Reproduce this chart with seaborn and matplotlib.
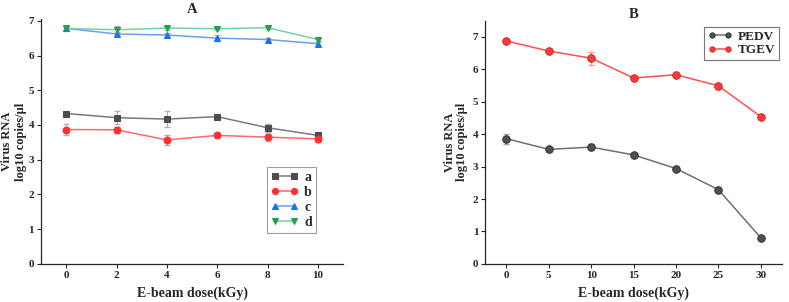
import matplotlib.pyplot as plt
import pandas as pd
import seaborn as sns

sns.set_theme(style='ticks')
plt.rcParams['font.family'] = ['Liberation Serif', 'DejaVu Serif']
plt.rcParams['font.weight'] = 'bold'

# panel A data
dose_a = [0, 2, 4, 6, 8, 10]
a_vals = [4.33, 4.21, 4.17, 4.24, 3.92, 3.70]
a_err = [0.05, 0.18, 0.22, 0.08, 0.12, 0.04]
b_vals = [3.87, 3.86, 3.57, 3.70, 3.65, 3.60]
b_err = [0.15, 0.08, 0.15, 0.05, 0.10, 0.08]
c_vals = [6.78, 6.62, 6.59, 6.50, 6.46, 6.34]
c_err = [0.05, 0.06, 0.05, 0.08, 0.05, 0.04]
d_vals = [6.78, 6.74, 6.79, 6.77, 6.80, 6.46]
d_err = [0.08, 0.12, 0.05, 0.05, 0.04, 0.05]

# panel B data
dose_b = [0, 5, 10, 15, 20, 25, 30]
pedv_vals = [3.86, 3.53, 3.60, 3.36, 2.94, 2.29, 0.81]
pedv_err = [0.15, 0.08, 0.10, 0.05, 0.05, 0.08, 0.05]
tgev_vals = [6.87, 6.56, 6.34, 5.73, 5.83, 5.49, 4.54]
tgev_err = [0.05, 0.05, 0.20, 0.05, 0.05, 0.10, 0.05]

fig = plt.figure(figsize=(7.89, 3.02), dpi=100)
axA = fig.add_axes([0.052, 0.126, 0.383, 0.811])
axB = fig.add_axes([0.615, 0.126, 0.376, 0.806])

series_a = [
    ('a', a_vals, a_err, 's', '#4d4d4d', '#7a7a7a'),
    ('b', b_vals, b_err, 'o', '#ff3030', '#ff6a6a'),
    ('c', c_vals, c_err, '^', '#1f6fe8', '#6aa0f0'),
    ('d', d_vals, d_err, 'v', '#22a050', '#7ad0a0'),
]
for name, vals, err, mk, mc, lc in series_a:
    df = pd.DataFrame({'dose': dose_a, 'rna': vals})
    axA.errorbar(dose_a, vals, yerr=err, fmt='none', ecolor='#b0b0b0',
                 elinewidth=0.8, capsize=2, zorder=1)
    sns.lineplot(data=df, x='dose', y='rna', ax=axA, color=lc, lw=1.1,
                 marker=mk, markersize=5, markerfacecolor=mc,
                 markeredgecolor=mc, label=name, zorder=3)

series_b = [
    ('PEDV', pedv_vals, pedv_err, '#505050', '#707070', '#2a2a2a'),
    ('TGEV', tgev_vals, tgev_err, '#ff3a3a', '#ff5050', '#c02020'),
]
for name, vals, err, mc, lc, ec in series_b:
    df = pd.DataFrame({'dose': dose_b, 'rna': vals})
    axB.errorbar(dose_b, vals, yerr=err, fmt='none', ecolor=lc,
                 elinewidth=0.8, capsize=2, alpha=0.6, zorder=1)
    sns.lineplot(data=df, x='dose', y='rna', ax=axB, color=lc, lw=1.1,
                 marker='o', markersize=5.5, markerfacecolor=mc,
                 markeredgecolor=ec, markeredgewidth=0.6, label=name, zorder=3)

for ax in (axA, axB):
    sns.despine(ax=ax)
    ax.tick_params(direction='out', length=3, width=0.8, labelsize=8, pad=2)
    for t in ax.get_xticklabels() + ax.get_yticklabels():
        t.set_fontweight('bold')
    ax.set_xlabel('E-beam dose(kGy)', fontsize=10, fontweight='bold', labelpad=5)
    ax.spines['left'].set_linewidth(0.9)
    ax.spines['bottom'].set_linewidth(0.9)

axA.set_ylabel('Virus RNA\nlog10 copies/μl', fontsize=9, fontweight='bold',
               labelpad=1, linespacing=1.25)
axB.set_ylabel('Virus RNA\nlog10 copies/μl', fontsize=9, fontweight='bold',
               labelpad=3, linespacing=1.1)

axA.set_xlim(-1, 11)
axA.set_ylim(0, 7.05)
axA.set_xticks(dose_a)
axA.set_yticks(range(0, 8))
axA.set_title('A', fontsize=10.5, fontweight='bold', pad=4)
legA = axA.legend(loc='lower right', bbox_to_anchor=(0.91, 0.125), numpoints=2,
                  handlelength=2.0, fontsize=10, frameon=True, fancybox=False,
                  borderpad=0.3, labelspacing=0.15, handletextpad=0.4,
                  borderaxespad=0, markerscale=0.9)
legA.get_frame().set_edgecolor('#888888')
legA.get_frame().set_linewidth(0.8)
for t in legA.get_texts():
    t.set_fontweight('bold')

axB.set_xlim(-2.5, 32.5)
axB.set_ylim(0, 7.5)
axB.set_xticks(dose_b)
axB.set_yticks(range(0, 8))
axB.set_title('B', fontsize=10.5, fontweight='bold', pad=2)
legB = axB.legend(loc='upper right', bbox_to_anchor=(0.99, 0.975), numpoints=2,
                  handlelength=1.8, fontsize=9.5, frameon=True, fancybox=False,
                  borderpad=0.3, labelspacing=0.1, handletextpad=0.4,
                  borderaxespad=0, markerscale=0.7)
legB.get_frame().set_edgecolor('#555555')
legB.get_frame().set_linewidth(0.8)
for t in legB.get_texts():
    t.set_fontweight('bold')

fig.savefig('out.png', dpi=100, facecolor='white')
